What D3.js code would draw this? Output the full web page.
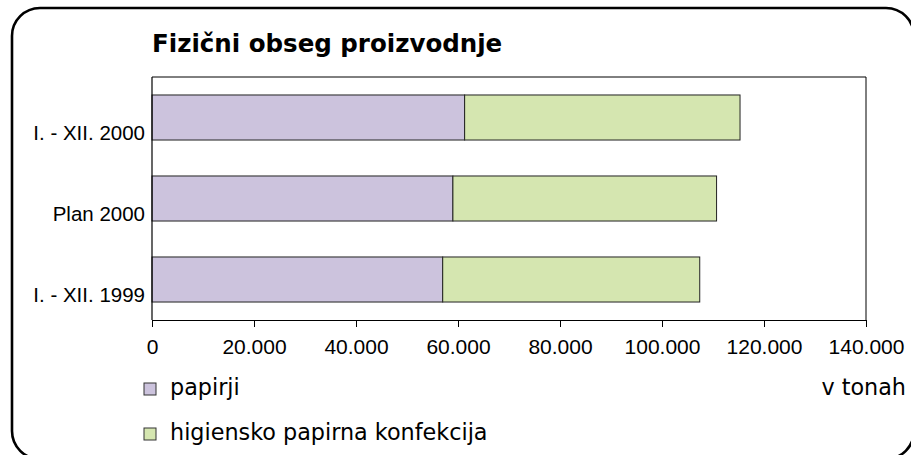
<!DOCTYPE html>
<html><head><meta charset="utf-8">
<script src="https://cdn.jsdelivr.net/npm/d3@7"></script>
<style>
html,body{margin:0;padding:0;background:#fff;}
svg{display:block;}
</style></head>
<body>
<svg id="c" width="911" height="455"></svg>
<script>
const categories = ["I. - XII. 2000", "Plan 2000", "I. - XII. 1999"];
const seriesNames = ["papirji", "higiensko papirna konfekcija"];
const papirji = [61300, 59000, 57000];
const higiensko = [54000, 51700, 50400];
const tickValues = [0, 20000, 40000, 60000, 80000, 100000, 120000, 140000];
const colors = ["#ccc3dd", "#d5e6b0"];
const title = "Fizični obseg proizvodnje";
const unitLabel = "v tonah";

const svg = d3.select("#c");
const textFont = "'Liberation Sans', Arial, sans-serif";
const legFont = "'DejaVu Sans', sans-serif";

// outer frame
svg.append("rect").attr("x", 12).attr("y", 8).attr("width", 902).attr("height", 451)
  .attr("rx", 28).attr("ry", 28).attr("fill", "none").attr("stroke", "#000").attr("stroke-width", 2.6);

svg.append("text").attr("x", 152).attr("y", 52).text(title)
  .attr("font-family", legFont).attr("font-weight", "bold").attr("font-size", 24.5).attr("fill", "#000");

const L = 152, R = 866, T = 77, B = 320;
const x = d3.scaleLinear().domain([0, 140000]).range([L, R]);
const y = d3.scaleBand().domain(categories).range([T, B]).paddingInner(0.444).paddingOuter(0.222);

// plot box top/right
svg.append("path").attr("d", `M${L},${T}H${R}V${B}`).attr("fill", "none").attr("stroke", "#000").attr("stroke-width", 1);

const data = categories.map((c, i) => ({c, a: papirji[i], b: higiensko[i]}));
const stack = d3.stack().keys(["a", "b"])(data);
svg.append("g").selectAll("g").data(stack).join("g").attr("fill", (d, i) => colors[i])
  .selectAll("rect").data(d => d).join("rect")
  .attr("x", d => x(d[0])).attr("width", d => x(d[1]) - x(d[0]))
  .attr("y", d => y(d.data.c)).attr("height", y.bandwidth())
  .attr("stroke", "#222").attr("stroke-width", 1);

// x axis
const fmt = v => d3.format(",")(v).replace(/,/g, ".");
const xa = svg.append("g").attr("transform", `translate(0,${B})`)
  .call(d3.axisBottom(x).tickValues(tickValues).tickFormat(fmt).tickSize(7).tickSizeOuter(0));
xa.select(".domain").attr("stroke", "#000").attr("stroke-width", 1.2);
xa.selectAll(".tick line").attr("stroke", "#000");
xa.selectAll("text").attr("font-family", textFont).attr("font-size", 21).attr("fill", "#000").attr("dy", null).attr("y", 34);

// y axis line
svg.append("line").attr("x1", L).attr("x2", L).attr("y1", T).attr("y2", B).attr("stroke", "#000").attr("stroke-width", 1.2);

// category labels
svg.append("g").selectAll("text").data(categories).join("text")
  .attr("x", 145).attr("y", d => y(d) + y.bandwidth()).attr("text-anchor", "end")
  .attr("font-family", textFont).attr("font-size", 20.5).attr("fill", "#000").text(d => d);

// legend
const lg = svg.append("g");
const legBase = [395, 440];
seriesNames.forEach((n, i) => {
  lg.append("rect").attr("x", 144).attr("y", legBase[i] - 12).attr("width", 12).attr("height", 12)
    .attr("fill", colors[i]).attr("stroke", "#333").attr("stroke-width", 1);
  lg.append("text").attr("x", 170).attr("y", legBase[i]).text(n)
    .attr("font-family", legFont).attr("font-size", 22.3).attr("fill", "#000");
});
svg.append("text").attr("x", 906).attr("y", 395).attr("text-anchor", "end").text(unitLabel)
  .attr("font-family", legFont).attr("font-size", 22.3).attr("fill", "#000");
</script>
</body></html>
